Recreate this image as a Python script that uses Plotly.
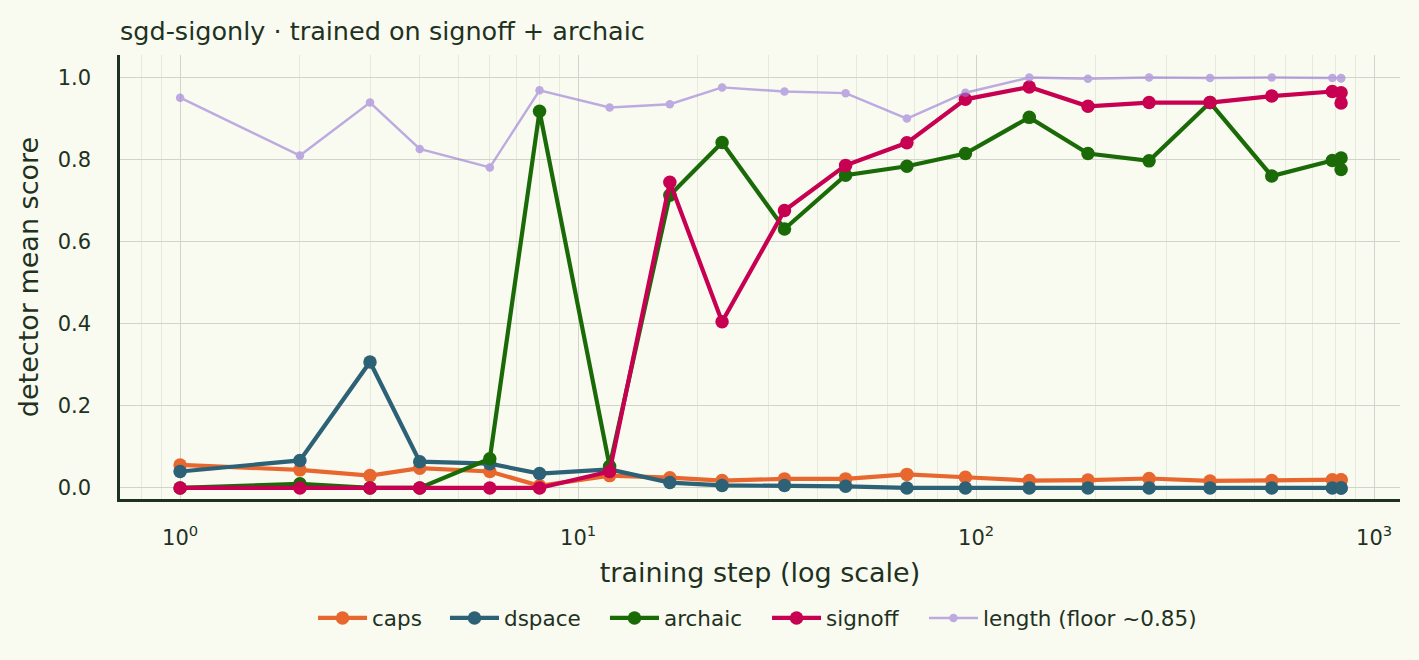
import plotly.graph_objects as go

# training steps (the final checkpoint is evaluated twice)
steps = [1, 2, 3, 4, 6, 8, 12, 17, 23, 33, 47, 67, 94, 136, 191, 272, 387, 553, 785, 826, 826]

caps = [0.056, 0.044, 0.030, 0.048, 0.040, 0.005, 0.030, 0.025, 0.018, 0.022, 0.022, 0.033,
        0.026, 0.018, 0.019, 0.023, 0.017, 0.018, 0.020, 0.020, 0.019]
dspace = [0.040, 0.067, 0.307, 0.064, 0.059, 0.035, 0.045, 0.013, 0.006, 0.006, 0.004, 0.0,
          0.0, 0.0, 0.0, 0.0, 0.0, 0.0, 0.0, 0.0, 0.0]
archaic = [0.0, 0.010, 0.0, 0.0, 0.071, 0.918, 0.053, 0.713, 0.842, 0.631, 0.762, 0.784,
           0.815, 0.903, 0.815, 0.797, 0.939, 0.760, 0.798, 0.804, 0.776]
signoff = [0.0, 0.0, 0.0, 0.0, 0.0, 0.0, 0.040, 0.745, 0.405, 0.676, 0.786, 0.841,
           0.947, 0.977, 0.930, 0.939, 0.939, 0.955, 0.966, 0.963, 0.938]
length = [0.951, 0.810, 0.939, 0.826, 0.781, 0.969, 0.927, 0.935, 0.976, 0.966, 0.962, 0.900,
          0.963, 1.0, 0.997, 1.0, 0.999, 1.0, 0.999, 0.998, 0.999]

x_tickvals = [1, 10, 100, 1000]
x_ticktext = ["10<sup>0</sup>", "10<sup>1</sup>", "10<sup>2</sup>", "10<sup>3</sup>"]

ink = "#1f321f"
bg = "#f9fbf1"

fig = go.Figure()

# one legend per trace so the entries can sit where the reference has them
series = [("caps", caps, "#e8672f", 4.2, 13.5, 1.0),
          ("dspace", dspace, "#2d6175", 4.2, 13.5, 1.0),
          ("archaic", archaic, "#1a6a08", 4.2, 13.5, 1.0),
          ("signoff", signoff, "#c70052", 4.2, 13.5, 1.0),
          ("length (floor ~0.85)", length, "#9a7ad6", 2.4, 8.5, 0.62)]
legend_x = [0.1508, 0.2539, 0.3789, 0.5055, 0.6281]

leg = dict(orientation="h", xanchor="left", y=-0.268, yanchor="middle",
           font=dict(size=21.5), bgcolor="rgba(0,0,0,0)", itemwidth=49)
legends = {}
for i, ((name, vals, col, lw, ms, op), lx) in enumerate(zip(series, legend_x)):
    key = "legend" if i == 0 else "legend%d" % (i + 1)
    legends[key] = dict(leg, x=lx)
    fig.add_trace(go.Scatter(x=steps, y=vals, name=name, mode="lines+markers",
                             line=dict(color=col, width=lw),
                             marker=dict(color=col, size=ms), opacity=op, legend=key))

# minor log gridlines 0.8 .. 900
minor_vals = [0.8, 0.9] + [m * 10 ** k for k in range(0, 3) for m in range(2, 10)]

fig.update_layout(
    width=1419, height=660,
    paper_bgcolor=bg, plot_bgcolor=bg,
    font=dict(family="DejaVu Sans", color=ink, size=21),
    margin=dict(l=120, r=19, t=55, b=161),
    title=dict(text="sgd-sigonly · trained on signoff + archaic", x=0, xref="paper",
               xanchor="left", y=0.953, yanchor="middle", font=dict(size=25.5, color=ink)),
    showlegend=True,
    **legends,
)
fig.update_xaxes(type="log", range=[-0.151, 3.065], tickvals=x_tickvals, ticktext=x_ticktext,
                 showline=True, linecolor=ink, linewidth=2.5, ticks="", zeroline=False,
                 gridcolor="#d2d4cb", gridwidth=1, ticklabelstandoff=18,
                 minor=dict(tickvals=minor_vals, showgrid=True, gridcolor="#e7e9df", gridwidth=1),
                 title=dict(text="training step (log scale)", font=dict(size=27), standoff=15),
                 tickfont=dict(size=21))
fig.update_yaxes(range=[-0.027, 1.055], dtick=0.2, tickformat=".1f",
                 showline=True, linecolor=ink, linewidth=2.5, ticks="", zeroline=False,
                 gridcolor="#d2d4cb", gridwidth=1, ticklabelstandoff=22,
                 title=dict(text="detector mean score", font=dict(size=27), standoff=12),
                 tickfont=dict(size=21))

fig.write_html("out.html", config={"displayModeBar": False},
               post_script="document.body.style.margin='0';document.body.style.background='#f9fbf1';")
